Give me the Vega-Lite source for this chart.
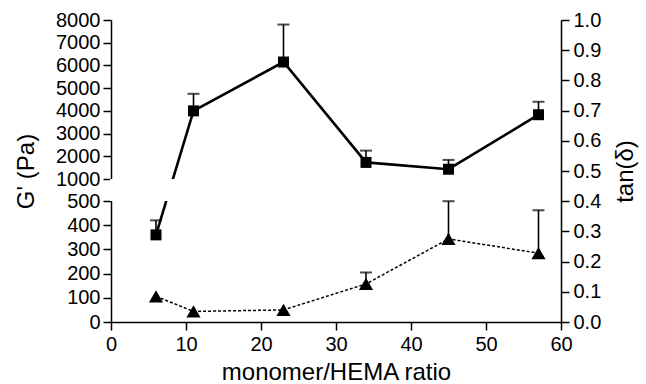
{
  "$schema": "https://vega.github.io/schema/vega-lite/v6.json",
  "autosize": {"type": "none"},
  "padding": {"left": 111, "top": 20, "right": 85, "bottom": 62},
  "width": 450,
  "height": 302,
  "background": "white",
  "config": {
    "view": {"stroke": null},
    "axis": {
      "labelFont": "Liberation Sans",
      "titleFont": "Liberation Sans",
      "labelFontSize": 20,
      "titleFontSize": 24,
      "titleFontWeight": "normal",
      "labelColor": "#000",
      "titleColor": "#000",
      "domainColor": "#000",
      "tickColor": "#000",
      "domainWidth": 1.5,
      "tickWidth": 1.5,
      "tickSize": 8,
      "grid": false,
      "labelOverlap": false,
      "labelBound": false,
      "labelFlush": false
    }
  },
  "datasets": {
    "gp": [
      {"ratio": 6, "G": 360, "Gerr": 420},
      {"ratio": 11, "G": 4000, "Gerr": 4750},
      {"ratio": 23, "G": 6150, "Gerr": 7800},
      {"ratio": 34, "G": 1730, "Gerr": 2250},
      {"ratio": 45, "G": 1430, "Gerr": 1840},
      {"ratio": 57, "G": 3830, "Gerr": 4400}
    ],
    "td": [
      {"ratio": 6, "tan": 0.085, "tanerr": null},
      {"ratio": 11, "tan": 0.035, "tanerr": null},
      {"ratio": 23, "tan": 0.04, "tanerr": null},
      {"ratio": 34, "tan": 0.126, "tanerr": 0.164},
      {"ratio": 45, "tan": 0.275, "tanerr": 0.40},
      {"ratio": 57, "tan": 0.228, "tanerr": 0.37}
    ],
    "brk": [
      {"v": 500},
      {"v": 1000}
    ]
  },
  "encoding": {
    "x": {
      "field": "ratio",
      "type": "quantitative",
      "scale": {"domain": [0, 60], "nice": false, "zero": false},
      "axis": {
        "values": [0, 10, 20, 30, 40, 50, 60],
        "title": "monomer/HEMA ratio",
        "labelPadding": 4,
        "titlePadding": 6
      }
    }
  },
  "layer": [
    {
      "data": {"name": "gp"},
      "encoding": {
        "y": {
          "field": "G",
          "type": "quantitative",
          "scale": {"domain": [0, 500, 1000, 8000], "range": [302, 181, 159, 0], "nice": false, "zero": false},
          "axis": {
            "orient": "left",
            "values": [0, 100, 200, 300, 400, 500, 1000, 2000, 3000, 4000, 5000, 6000, 7000, 8000],
            "format": "d",
            "title": "G' (Pa)",
            "labelPadding": 3,
            "titlePadding": 17
          }
        }
      },
      "layer": [
        {
          "mark": {"type": "line", "color": "#000", "strokeWidth": 2.6}
        },
        {
          "mark": {"type": "rect", "color": "white"},
          "encoding": {
            "x": {"datum": -0.1},
            "x2": {"datum": 59.8},
            "y": {"datum": 505},
            "y2": {"datum": 990}
          }
        },
        {
          "data": {"name": "brk"},
          "mark": {"type": "rule", "color": "#000", "strokeWidth": 1.5},
          "encoding": {
            "x": {"datum": -0.1},
            "x2": {"datum": 0.75},
            "y": {"field": "v", "type": "quantitative"}
          }
        },
        {
          "mark": {"type": "rule", "color": "#000", "strokeWidth": 1.6},
          "encoding": {"y2": {"field": "Gerr"}}
        },
        {
          "mark": {"type": "tick", "orient": "horizontal", "color": "#000", "size": 12, "thickness": 2},
          "encoding": {"y": {"field": "Gerr", "type": "quantitative"}}
        },
        {
          "mark": {"type": "point", "shape": "square", "filled": true, "color": "#000", "size": 121, "opacity": 1}
        }
      ]
    },
    {
      "data": {"name": "td"},
      "encoding": {
        "y": {
          "field": "tan",
          "type": "quantitative",
          "scale": {"domain": [0, 1], "nice": false, "zero": false},
          "axis": {
            "orient": "right",
            "values": [0, 0.1, 0.2, 0.3, 0.4, 0.5, 0.6, 0.7, 0.8, 0.9, 1.0],
            "format": ".1f",
            "title": "tan(δ)",
            "titleAngle": 270,
            "titleBaseline": "bottom",
            "labelPadding": 4,
            "titlePadding": 37,
            "zindex": 1
          }
        }
      },
      "layer": [
        {
          "mark": {"type": "line", "color": "#000", "strokeWidth": 1.5, "strokeDash": [3, 2]}
        },
        {
          "transform": [{"filter": "datum.tanerr != null"}],
          "mark": {"type": "rule", "color": "#000", "strokeWidth": 1.6},
          "encoding": {"y2": {"field": "tanerr"}}
        },
        {
          "transform": [{"filter": "datum.tanerr != null"}],
          "mark": {"type": "tick", "orient": "horizontal", "color": "#000", "size": 12, "thickness": 2},
          "encoding": {"y": {"field": "tanerr", "type": "quantitative"}}
        },
        {
          "mark": {"type": "point", "shape": "triangle-up", "filled": true, "color": "#000", "size": 200, "opacity": 1}
        }
      ]
    }
  ],
  "resolve": {"scale": {"y": "independent"}, "axis": {"y": "independent"}}
}
